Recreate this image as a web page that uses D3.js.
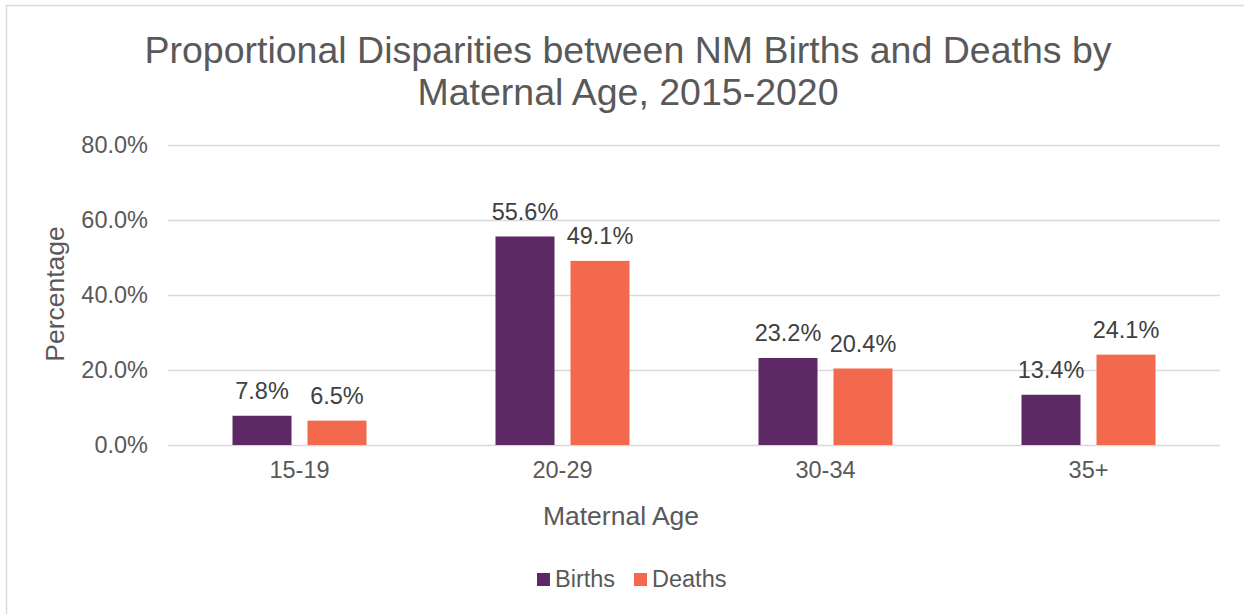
<!DOCTYPE html>
<html>
<head>
<meta charset="utf-8">
<script src="https://cdn.jsdelivr.net/npm/d3@7"></script>
<style>
  body { margin: 0; background: #fff; }
  text { font-family: "Liberation Sans", Arial, sans-serif; }
</style>
</head>
<body>
<div id="chart"></div>
<script>
/* Chart values. */
let categories = ["15-19", "20-29", "30-34", "35+"];
let seriesNames = ["Births", "Deaths"];
let births = [7.8, 55.6, 23.2, 13.4];
let deaths = [6.5, 49.1, 20.4, 24.1];
let yTicks = [0, 20, 40, 60, 80];
let titleLines = ["Proportional Disparities between NM Births and Deaths by",
                  "Maternal Age, 2015-2020"];

let colors = {Births: "#5c2964", Deaths: "#f3694d"};

let width = 1244, height = 614;
let margins = {top: 145, right: 24, bottom: 169, left: 168};

let svg = d3.select("#chart").append("svg")
    .attr("width", width)
    .attr("height", height);

/* light chart-area border, only left and top are visible in the window */
svg.append("rect")
    .attr("x", 6.5).attr("y", 5.5)
    .attr("width", width + 20).attr("height", height + 20)
    .attr("fill", "none")
    .attr("stroke", "#d9d9d9")
    .attr("stroke-width", 1.5);

let x = d3.scaleBand()
    .domain(categories)
    .range([margins.left, width - margins.right]);

let y = d3.scaleLinear()
    .domain([0, 80])
    .range([height - margins.bottom, margins.top]);

let barWidth = 59, barGap = 16;
let inner = d3.scaleOrdinal()
    .domain(seriesNames)
    .range([-(barWidth + barGap / 2), barGap / 2]);

/* gridlines and y tick labels */
let yAxis = d3.axisLeft(y)
    .tickValues(yTicks)
    .tickSize(-(width - margins.left - margins.right))
    .tickPadding(20)
    .tickFormat(d => d.toFixed(1) + "%");

let gy = svg.append("g")
    .attr("transform", "translate(" + margins.left + ",0)")
    .call(yAxis);
gy.select(".domain").remove();
gy.selectAll(".tick line")
    .attr("stroke", "#d9d9d9")
    .attr("stroke-width", 1.5);
gy.selectAll(".tick text")
    .attr("fill", "#595959")
    .style("font-size", "23.5px");

/* x tick labels */
let xAxis = d3.axisBottom(x).tickSize(0).tickPadding(16);
let gx = svg.append("g")
    .attr("transform", "translate(0," + (height - margins.bottom) + ")")
    .call(xAxis);
gx.select(".domain").remove();
gx.selectAll(".tick text")
    .attr("fill", "#595959")
    .style("font-size", "23.5px");

/* bars, one group per category */
let rows = categories.map((c, i) => ({
    cat: c,
    values: [{name: "Births", v: births[i]}, {name: "Deaths", v: deaths[i]}]
}));

let groups = svg.selectAll("g.group")
    .data(rows)
    .enter()
    .append("g")
    .attr("class", "group")
    .attr("transform", d => "translate(" + (x(d.cat) + x.bandwidth() / 2) + ",0)");

groups.selectAll("rect")
    .data(d => d.values)
    .enter()
    .append("rect")
    .attr("x", d => inner(d.name))
    .attr("y", d => y(d.v))
    .attr("width", barWidth)
    .attr("height", d => y(0) - y(d.v))
    .attr("fill", d => colors[d.name]);

groups.selectAll("text.label")
    .data(d => d.values)
    .enter()
    .append("text")
    .attr("class", "label")
    .attr("x", d => inner(d.name) + barWidth / 2)
    .attr("y", d => y(d.v) - 17)
    .attr("text-anchor", "middle")
    .attr("fill", "#404040")
    .style("font-size", "23.5px")
    .text(d => d.v.toFixed(1) + "%");

/* title */
svg.append("g").selectAll("text")
    .data(titleLines)
    .enter()
    .append("text")
    .attr("x", 628)
    .attr("y", (d, i) => 63 + i * 42)
    .attr("text-anchor", "middle")
    .attr("fill", "#595959")
    .style("font-size", "37.5px")
    .text(d => d);

/* axis titles */
svg.append("text")
    .attr("x", 621)
    .attr("y", 525)
    .attr("text-anchor", "middle")
    .attr("fill", "#595959")
    .style("font-size", "26.5px")
    .text("Maternal Age");

svg.append("text")
    .attr("transform", "translate(64,294) rotate(-90)")
    .attr("text-anchor", "middle")
    .attr("fill", "#595959")
    .style("font-size", "26.5px")
    .text("Percentage");

/* legend */
let legendX = {Births: 537, Deaths: 634};
let legend = svg.selectAll("g.legend")
    .data(seriesNames)
    .enter()
    .append("g")
    .attr("class", "legend")
    .attr("transform", d => "translate(" + legendX[d] + ",573)");
legend.append("rect")
    .attr("width", 13).attr("height", 13)
    .attr("fill", d => colors[d]);
legend.append("text")
    .attr("x", 18)
    .attr("y", 14)
    .attr("fill", "#595959")
    .style("font-size", "23.5px")
    .text(d => d);
</script>
</body>
</html>
